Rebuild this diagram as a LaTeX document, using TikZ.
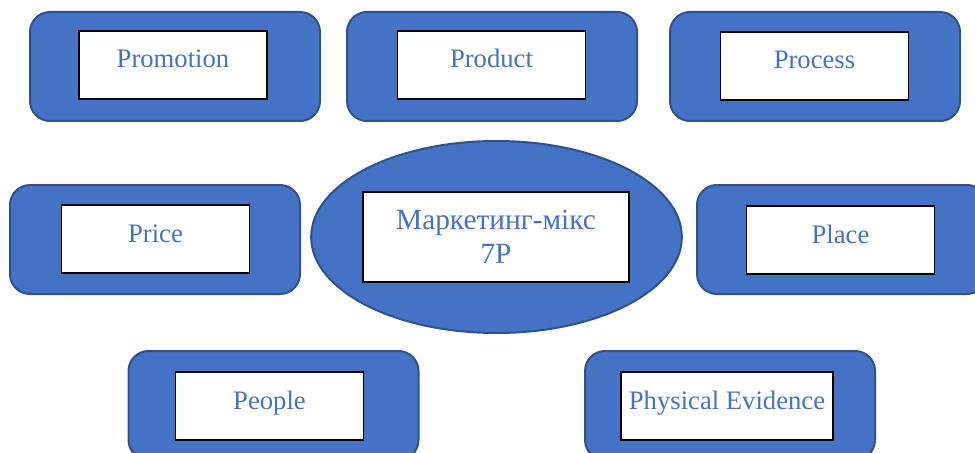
\documentclass[tikz,border=0pt]{standalone}
\usepackage{fontspec}
\setmainfont{Liberation Serif}
\usetikzlibrary{shapes.geometric}

\definecolor{mixblue}{HTML}{4472C4}
\definecolor{mixedge}{HTML}{2F528F}

\tikzset{
  outbox/.style={draw=mixedge,fill=mixblue,line width=1.5pt,rounded corners=15pt,
    minimum width=217.5pt,minimum height=81.75pt,inner sep=0pt},
  inbox/.style={draw=black,fill=white,line width=0.9pt,inner sep=0pt,
    minimum width=141pt,text height=27.75pt,text depth=23.25pt,
    text=mixblue,font=\fontsize{20pt}{24pt}\selectfont},
}

\begin{document}
\begin{tikzpicture}[x=0.75pt,y=-0.75pt]
        \useasboundingbox (0,0) rectangle (975,453) ;
        % top row
        \node[outbox] (promoout) at (175,66.5) {} ;
        \node[inbox] (promo) at (173,65) {Promotion} ;
        \node[outbox] (prodout) at (492,66.5) {} ;
        \node[inbox] (prod) at (491.5,65) {Product} ;
        \node[outbox] (procout) at (815,66.5) {} ;
        \node[inbox] (proc) at (814.5,66) {Process} ;
        % middle row
        \node[outbox] (priceout) at (155,239.5) {} ;
        \node[inbox] (price) at (155.5,239) {Price} ;
        \node[draw=mixedge,fill=mixblue,line width=1.5pt,ellipse,
          minimum width=278pt,minimum height=144pt] (mixout) at (496.5,237) {} ;
        \node[draw=black,fill=white,line width=0.9pt,minimum width=199.5pt,
          minimum height=67.5pt,align=center,text=mixblue,
          font=\fontsize{22pt}{25.5pt}\selectfont] (mix) at (496,237)
          {Маркетинг-мікс\\7P} ;
        \node[outbox] (placeout) at (842,239.5) {} ;
        \node[inbox] (place) at (840.5,240) {Place} ;
        % bottom row
        \node[outbox] (peopleout) at (273.5,405.5) {} ;
        \node[inbox] (people) at (269.5,406) {People} ;
        \node[outbox] (physevout) at (730,405.5) {} ;
        \node[inbox,minimum width=159pt] (physev) at (727,406) {Physical Evidence} ;
      \end{tikzpicture}
\end{document}
